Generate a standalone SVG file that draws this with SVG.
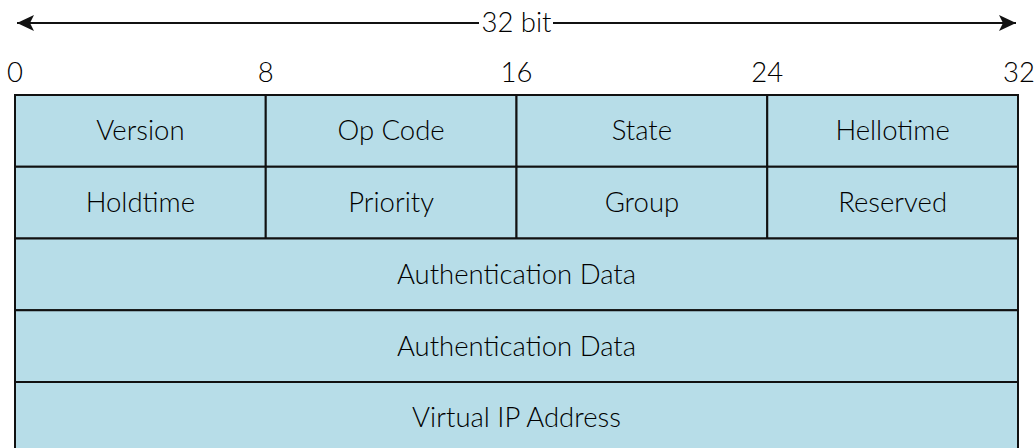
<svg xmlns="http://www.w3.org/2000/svg" width="1035" height="448" viewBox="0 0 1035 448">
<style>
text{font-family:Lato,"Liberation Sans",sans-serif;font-size:27.5px;font-weight:300;fill:#000;text-anchor:middle}
.cell{fill:#b7dde8;stroke:#111;stroke-width:2}
.ln{stroke:#111;stroke-width:2;fill:none}
</style>
<defs>
<marker id="ah" markerWidth="20" markerHeight="20" viewBox="0 0 20 20" refX="17" refY="10" orient="auto-start-reverse" markerUnits="userSpaceOnUse">
<path d="M0,2 L17,10 L0,18 L4,10 Z" fill="#111"/>
</marker>
</defs>
<rect width="1035" height="448" fill="#fff"/>
<g id="connectors">
<line class="ln" x1="17" y1="23" x2="479" y2="23" marker-start="url(#ah)"/>
<line class="ln" x1="553" y1="23" x2="1016" y2="23" marker-end="url(#ah)"/>
</g>
<g id="width-label"><text x="516.5" y="32">32 bit</text></g>
<g id="bit-ticks">
<text x="15" y="82">0</text>
<text x="265.75" y="82">8</text>
<text x="516.5" y="82">16</text>
<text x="767.25" y="82">24</text>
<text x="1019" y="82">32</text>
</g>
<g id="version"><rect class="cell" x="15" y="95" width="250.75" height="71.75"/><text x="140.4" y="140">Version</text></g>
<g id="opcode"><rect class="cell" x="265.75" y="95" width="250.75" height="71.75"/><text x="391.1" y="140">Op Code</text></g>
<g id="state"><rect class="cell" x="516.5" y="95" width="250.75" height="71.75"/><text x="641.9" y="140">State</text></g>
<g id="hellotime"><rect class="cell" x="767.25" y="95" width="250.75" height="71.75"/><text x="892.6" y="140">Hellotime</text></g>
<g id="holdtime"><rect class="cell" x="15" y="166.75" width="250.75" height="71.75"/><text x="140.4" y="212">Holdtime</text></g>
<g id="priority"><rect class="cell" x="265.75" y="166.75" width="250.75" height="71.75"/><text x="391.1" y="212">Priority</text></g>
<g id="group"><rect class="cell" x="516.5" y="166.75" width="250.75" height="71.75"/><text x="641.9" y="212">Group</text></g>
<g id="reserved"><rect class="cell" x="767.25" y="166.75" width="250.75" height="71.75"/><text x="892.6" y="212">Reserved</text></g>
<g id="auth1"><rect class="cell" x="15" y="238.5" width="1003" height="71.75"/><text x="516.5" y="284">Authentication Data</text></g>
<g id="auth2"><rect class="cell" x="15" y="310.25" width="1003" height="71.75"/><text x="516.5" y="356">Authentication Data</text></g>
<g id="vip"><rect class="cell" x="15" y="382" width="1003" height="71.75"/><text x="516.5" y="427">Virtual IP Address</text></g>
</svg>
